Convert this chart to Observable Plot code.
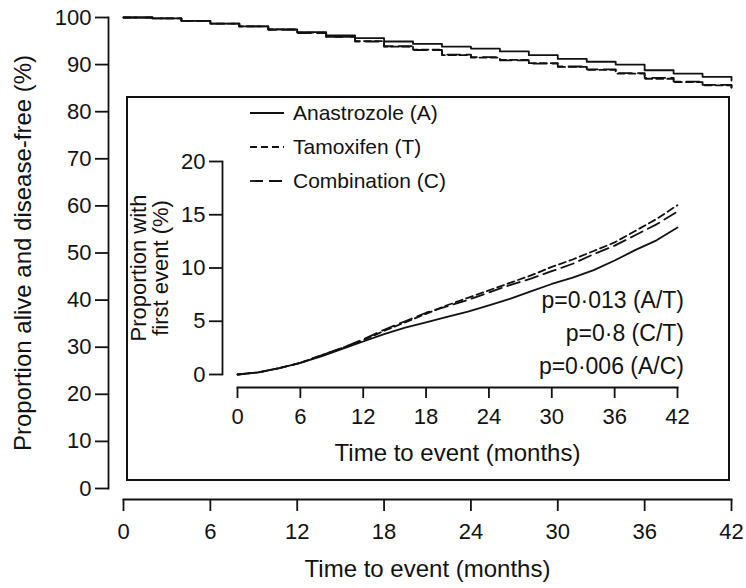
<!DOCTYPE html>
<html><head><meta charset="utf-8">
<script src="https://cdn.jsdelivr.net/npm/d3@7"></script>
<script src="https://cdn.jsdelivr.net/npm/@observablehq/plot@0.6"></script>
<style>
body{margin:0;background:#fff;}
#wrap{position:relative;width:746px;height:588px;font-family:"Liberation Sans",Arial,sans-serif;color:#111;}
#inset{position:absolute;left:126px;top:96px;width:600px;height:381px;border:2px solid #111;background:#fff;}
#inset svg{display:block;position:absolute;left:0;top:0;}
</style></head><body><div id="wrap"><div id="main"></div><div id="inset"></div></div>
<script>
// ---- data ----
const months = [0,2,4,6,8,10,12,14,16,18,20,22,24,26,28,30,32,34,36,38,40,42];
const survA = [100,99.8,99.3,98.7,98.1,97.5,96.9,96.2,95.6,94.9,94.4,93.8,93.4,92.8,92.0,91.2,90.6,90.0,88.8,88.1,87.4,86.6];
const survT = [100,99.8,99.3,98.7,98.1,97.5,96.8,95.9,95.0,93.8,93.2,92.0,91.5,91.0,90.3,89.5,88.9,88.1,87.0,86.3,85.6,84.8];
const survC = [100,99.8,99.3,98.7,98.1,97.4,96.7,95.9,94.9,93.9,93.1,92.1,91.6,90.9,90.2,89.6,89.0,88.2,87.2,86.4,85.7,85.0];
const eventA = [0,0.2,0.6,1.1,1.7,2.4,3.1,3.8,4.4,4.9,5.4,5.9,6.5,7.1,7.8,8.5,9.1,9.8,10.7,11.7,12.6,13.8];
const eventT = [0,0.2,0.6,1.1,1.8,2.5,3.2,4.1,4.9,5.7,6.5,7.2,7.9,8.6,9.3,10.1,10.8,11.6,12.4,13.5,14.6,15.9];
const eventC = [0,0.2,0.6,1.1,1.8,2.5,3.3,4.2,5.0,5.8,6.4,7.0,7.7,8.4,9.0,9.7,10.4,11.3,12.1,13.1,14.1,15.3];
const monthTicks = [0,6,12,18,24,30,36,42];
const survTicks = [0,10,20,30,40,50,60,70,80,90,100];
const eventTicks = [0,5,10,15,20];
const seriesNames = ["Anastrozole (A)","Tamoxifen (T)","Combination (C)"];
const pLabels = ["p=0·013 (A/T)","p=0·8 (C/T)","p=0·006 (A/C)"];

// ---- styles ----
const ink = "#111";
const dashes = [null, "7,4", "13,6"];
const lw = 1.8;
const font = "'Liberation Sans', Arial, sans-serif";
const rows = vals => months.map((m, i) => ({m, v: vals[i]}));

const main = Plot.plot({
  width: 746, height: 588,
  marginLeft: 123, marginRight: 15, marginTop: 17, marginBottom: 100,
  style: {fontFamily: font, fontSize: "23px", color: ink, background: "#fff", overflow: "visible"},
  x: {domain: [0, 42]},
  y: {domain: [0, 100]},
  marks: [
    Plot.frame({anchor: "left", dx: -15, strokeWidth: lw}),
    Plot.frame({anchor: "bottom", dy: 11, strokeWidth: lw}),
    Plot.axisY(survTicks, {tickSize: 13, tickPadding: 4, dx: -15, strokeWidth: lw, fontSize: 22, label: null}),
    Plot.axisY({ticks: [], tickSize: 0, label: "Proportion alive and disease-free (%)", labelAnchor: "center",
      labelArrow: "none", labelOffset: 110, fontSize: 24}),
    Plot.axisX(monthTicks, {tickSize: 12, tickPadding: 12, dy: 11, strokeWidth: lw, fontSize: 22, label: null}),
    Plot.axisX({ticks: [], tickSize: 0, label: "Time to event (months)", labelAnchor: "center",
      labelArrow: "none", labelOffset: 88, fontSize: 24}),
    Plot.line(rows(survA), {x: "m", y: "v", curve: "step-after", stroke: ink, strokeWidth: lw}),
    Plot.line(rows(survT), {x: "m", y: "v", curve: "step-after", stroke: ink, strokeWidth: lw, strokeDasharray: dashes[1]}),
    Plot.line(rows(survC), {x: "m", y: "v", curve: "step-after", stroke: ink, strokeWidth: lw, strokeDasharray: dashes[2]})
  ]
});
document.getElementById("main").append(main);

const inset = Plot.plot({
  width: 600, height: 381,
  marginLeft: 109, marginRight: 51, marginTop: 63, marginBottom: 105,
  style: {fontFamily: font, fontSize: "23px", color: ink, background: "transparent", overflow: "visible"},
  x: {domain: [0, 42]},
  y: {domain: [0, 20]},
  marks: [
    Plot.frame({anchor: "left", dx: -15, strokeWidth: lw}),
    Plot.frame({anchor: "bottom", dy: 13, strokeWidth: lw}),
    Plot.axisY(eventTicks, {tickSize: 13, tickPadding: 4, dx: -15, strokeWidth: lw, fontSize: 22, label: null}),
    Plot.axisY({ticks: [], tickSize: 0, label: "Proportion with\nfirst event (%)", labelAnchor: "center",
      labelArrow: "none", labelOffset: 107, fontSize: 22}),
    Plot.axisX(monthTicks, {tickSize: 11, tickPadding: 10, dy: 13, strokeWidth: lw, fontSize: 22, label: null}),
    Plot.axisX({ticks: [], tickSize: 0, label: "Time to event (months)", labelAnchor: "center",
      labelArrow: "none", labelOffset: 86, fontSize: 24}),
    Plot.line(rows(eventA), {x: "m", y: "v", stroke: ink, strokeWidth: lw}),
    Plot.line(rows(eventT), {x: "m", y: "v", stroke: ink, strokeWidth: lw, strokeDasharray: dashes[1]}),
    Plot.line(rows(eventC), {x: "m", y: "v", stroke: ink, strokeWidth: lw, strokeDasharray: dashes[2]})
  ]
});
document.getElementById("inset").append(inset);

// legend + p-values overlay inside the inset
const ov = d3.select("#inset").append("svg")
  .attr("width", 600).attr("height", 381)
  .style("font-family", font).style("pointer-events", "none");
const leg = ov.selectAll("g.leg").data(seriesNames).join("g")
  .attr("transform", (d, i) => `translate(122,${15 + 34 * i})`);
leg.append("line").attr("x1", 0).attr("x2", 34).attr("stroke", ink).attr("stroke-width", lw)
  .attr("stroke-dasharray", (d, i) => dashes[i]);
leg.append("text").attr("x", 43).attr("dy", "0.35em").attr("fill", ink).style("font-size", "21px").text(d => d);
ov.selectAll("text.p").data(pLabels).join("text")
  .attr("x", 556).attr("y", (d, i) => 202 + 33 * i).attr("dy", "0.35em")
  .attr("text-anchor", "end").attr("fill", ink).style("font-size", "23px").text(d => d);
</script></body></html>
